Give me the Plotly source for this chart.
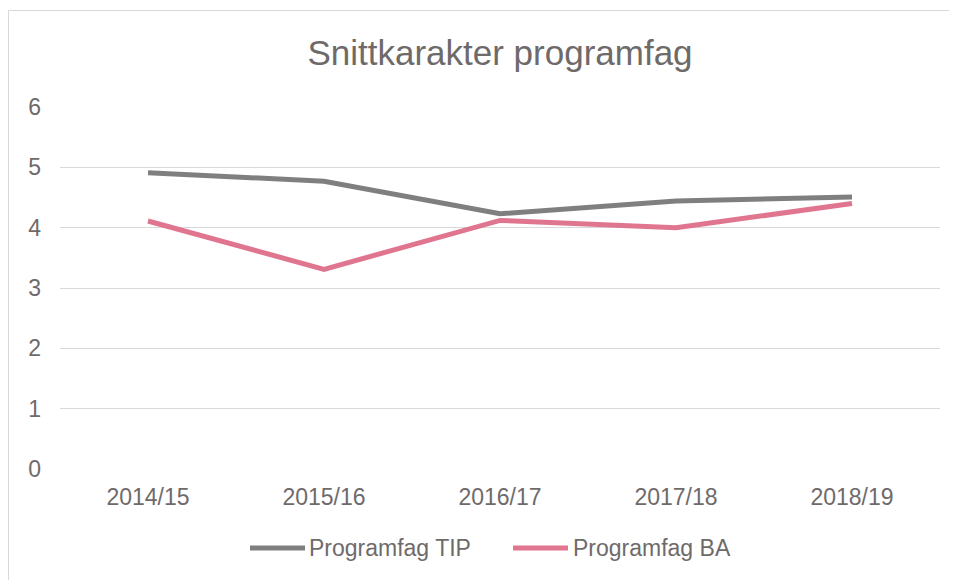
import plotly.graph_objects as go

categories = ["2014/15", "2015/16", "2016/17", "2017/18", "2018/19"]
tip_values = [4.91, 4.77, 4.23, 4.44, 4.51]
ba_values = [4.11, 3.31, 4.12, 4.00, 4.40]
series_names = ["Programfag TIP", "Programfag BA"]
series_colors = ["#7f7f7f", "#e07590"]
title_text = "Snittkarakter programfag"
y_ticks = [0, 1, 2, 3, 4, 5, 6]

TEXT = "#6f6a6a"
FONT = "Liberation Sans, Arial, sans-serif"

W, H = 949, 572
L, R, T, B = 52, 17, 99, 111
PW, PH = W - L - R, H - T - B


def px_x(x):
    return (x - L) / PW


def px_y(y):
    return (H - B - y) / PH


fig = go.Figure()
for name, vals, col in zip(series_names, [tip_values, ba_values], series_colors):
    fig.add_trace(go.Scatter(x=categories, y=vals, name=name, mode="lines",
                             line=dict(color=col, width=5), showlegend=False))

# custom legend (long line swatches as in the reference)
legend_items = [(242, 297, 299), (505, 560, 563)]
shapes = [dict(type="rect", xref="paper", yref="paper",
               x0=px_x(0.5), x1=1.2, y0=-0.5, y1=px_y(2.5),
               line=dict(color="#d9d9d9", width=1), fillcolor="rgba(0,0,0,0)",
               layer="below")]
annotations = []
for (x0, x1, tx), name, col in zip(legend_items, series_names, series_colors):
    shapes.append(dict(type="line", xref="paper", yref="paper",
                       x0=px_x(x0), x1=px_x(x1), y0=px_y(540), y1=px_y(540),
                       line=dict(color=col, width=5)))
    annotations.append(dict(text=name, xref="paper", yref="paper",
                            x=px_x(tx), y=px_y(540), xanchor="left", yanchor="middle",
                            showarrow=False, font=dict(size=23, color=TEXT, family=FONT)))

fig.update_layout(
    width=W, height=H,
    margin=dict(l=L, r=R, t=T, b=B),
    paper_bgcolor="white", plot_bgcolor="white",
    font=dict(family=FONT, color=TEXT, size=23),
    title=dict(text=title_text, x=0.5, xanchor="center", xref="paper",
               y=1 - 45 / H, yanchor="middle",
               font=dict(size=35, color=TEXT, family=FONT)),
    xaxis=dict(type="category", range=[-0.5, 4.5], showgrid=False, zeroline=False,
               showline=False, ticks="", ticklabelstandoff=12,
               tickfont=dict(size=23, color=TEXT)),
    yaxis=dict(range=[0, 6], tickvals=y_ticks, showgrid=True, gridcolor="#d9d9d9",
               gridwidth=1, zeroline=False, showline=False, ticks="",
               ticklabelstandoff=18, tickfont=dict(size=23, color=TEXT)),
    shapes=shapes,
    annotations=annotations,
)

fig.write_html("out.html")
